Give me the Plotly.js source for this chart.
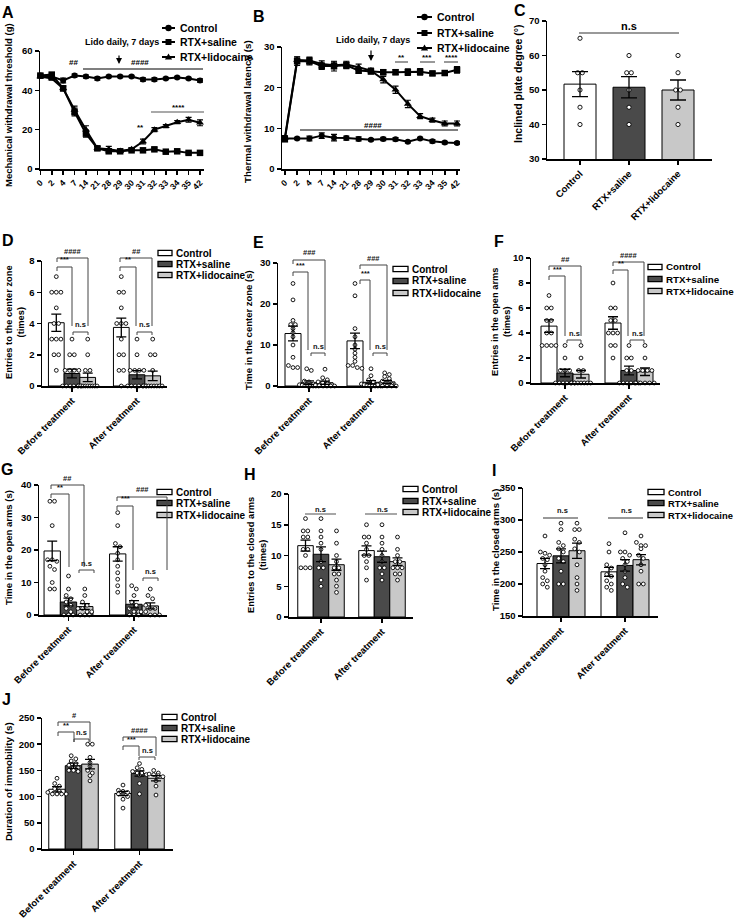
<!DOCTYPE html>
<html><head><meta charset="utf-8">
<script src="https://cdn.plot.ly/plotly-3.0.1.min.js"></script>
<style>html,body{margin:0;padding:0;background:#fff}#chart{width:736px;height:920px}</style>
</head><body><div id="chart"></div>
<script>
// ================= DATA =================
const days = ['0','2','4','7','14','21','28','29','30','31','32','33','34','35','42'];
const groupNames = ['Control','RTX+saline','RTX+lidocaine'];
const phases = ['Before treatment','After treatment'];

// A: mechanical withdrawal threshold (g)
const mechControl    = [47.5,47,45,47.5,47,46,47,47,47,45.5,45.5,46,46.5,46,45];
const mechControlSem = [0.8,0.8,1.2,0.8,0.8,0.8,0.6,0.6,0.6,0.8,0.8,0.6,0.6,0.6,0.8];
const mechSaline     = [47.5,48,41,29,18,10.5,9,9,9.5,9.5,10,8.8,9,8.2,8.2];
const mechSalineSem  = [0.8,0.8,1.2,2,1.8,1,0.8,0.6,0.6,0.6,0.8,0.6,0.6,0.6,0.6];
const mechLido       = [47,46,41,30,20,10.5,10,9.2,10,14,20,21.8,23.8,25,23.5];
const mechLidoSem    = [0.8,0.8,1.2,2,2,1,1.5,0.6,0.6,1.2,1,0.8,0.8,1.2,1.5];

// B: thermal withdrawal latency (s)
const thermControl    = [7.5,7.5,7.5,8.2,7.7,7.6,7.4,7.2,7.4,7.3,6.7,7.5,6.8,6.5,6.4];
const thermControlSem = [0.5,0.3,0.6,0.7,0.8,0.5,0.5,0.3,0.4,0.4,0.3,0.3,0.4,0.3,0.3];
const thermSaline     = [7.3,26.5,26.5,25.3,25.3,25.5,24.2,24,23.8,23.8,23.8,23.9,23.5,23.6,24.4];
const thermSalineSem  = [0.5,1,0.9,0.8,1.2,0.8,0.7,0.6,0.6,0.6,0.8,0.8,0.5,0.5,0.8];
const thermLido       = [7.6,26.8,26.7,25.8,25.5,25.7,25,24.2,22,19.5,16,13,12,11.2,11.2];
const thermLidoSem    = [0.6,0.8,0.8,0.8,0.8,0.8,0.8,0.6,0.8,0.9,0.9,0.6,0.5,0.6,0.6];

// C: inclined plate degree
const C_mean = [51.7,50.8,50.0];
const C_sem  = [3.6,3.1,2.9];
const C_pts  = [[65,55,55,50,45,40],[60,55,55,50,45,40],[60,55,50,50,45,40]];

// D: entries to the center zone (times)  [before, after]
const D_mean_ctrl=[4.05,3.75], D_sem_ctrl=[0.55,0.6];
const D_mean_sal =[0.8,0.72],  D_sem_sal =[0.28,0.27];
const D_mean_lid =[0.55,0.65], D_sem_lid =[0.27,0.3];
const D_pts_ctrl=[[7,6,6,6,5,4,4,3,3,3,2,2,1],[7,6,6,5,4,4,4,3,2,2,1,1,0]];
const D_pts_sal =[[3,2,2,1,1,1,1,0,0,0,0,0,0],[3,2,1,1,1,1,0,0,0,0,0,0]];
const D_pts_lid =[[3,2,1,1,0,0,0,0,0,0,0,0,0],[3,2,2,1,0,0,0,0,0,0,0,0]];

// E: time in the center zone (s)
const E_mean_ctrl=[12.8,11.0], E_sem_ctrl=[1.8,1.9];
const E_mean_sal =[0.8,0.9],   E_sem_sal =[0.45,0.4];
const E_mean_lid =[0.8,1.0],   E_sem_lid =[0.4,0.35];
const E_pts_ctrl=[[25,21,16,15,15,14,13,12,10,7,5,4.5,4.5],[25,22,14,12,10,9,8,7,6,5,5,4.5,4.3]];
const E_pts_sal =[[4.2,3.8,1.2,1,0.5,0.3,0.2,0.1,0,0,0,0,0],[4.2,2.5,1.5,1,0.5,0.3,0.2,0,0,0,0,0]];
const E_pts_lid =[[4.1,2,1.5,1,0.8,0.5,0.3,0.2,0.1,0,0,0,0],[3.2,2.8,2.3,1.8,1.2,0.8,0.5,0.3,0,0,0,0]];

// F: entries in the open arms (times)
const F_mean_ctrl=[4.55,4.8], F_sem_ctrl=[0.5,0.5];
const F_mean_sal =[0.8,1.0],  F_sem_sal =[0.3,0.35];
const F_mean_lid =[0.7,0.9],  F_sem_lid =[0.3,0.3];
const F_pts_ctrl=[[7,6,6,5,5,4,4,3,3,3,3],[8,6,6,5,5,4,4,4,3,3,2]];
const F_pts_sal =[[3,2,1,1,1,0,0,0,0,0,0],[3,2,2,1,1,0,0,0,0,0,0]];
const F_pts_lid =[[3,2,1,1,0,0,0,0,0,0,0],[3,2,1,1,1,1,0,0,0,0,0]];

// G: time in the open arms (s)
const G_mean_ctrl=[19.7,18.8], G_sem_ctrl=[3.0,2.2];
const G_mean_sal =[4.0,3.3],   G_sem_sal =[1.2,1.1];
const G_mean_lid =[2.6,2.8],   G_sem_lid =[0.9,0.9];
const G_pts_ctrl=[[35,35,27.5,17,17,16.5,15,14,10,8,8],[31.5,27.5,22,21,19,17,15,13,11,9,7]];
const G_pts_sal =[[12,8,6,5,4,3,2,1,0,0,0],[9,8,6,4,3,2,1,1,0,0,0]];
const G_pts_lid =[[8,6,4,3,2,2,1,1,0,0,0],[8,6,5,3,2,2,1,1,0,0,0]];

// H: entries to the closed arms (times)
const H_mean_ctrl=[11.6,10.8], H_sem_ctrl=[0.9,0.75];
const H_mean_sal =[10.2,9.8],  H_sem_sal =[1.2,0.9];
const H_mean_lid =[8.5,9.0],   H_sem_lid =[0.9,0.6];
const H_pts_ctrl=[[16,14,14,13,13,11,11,10,8,8,8],[15,13,13,12,11,10,10,9,8,6]];
const H_pts_sal =[[16,14,13,12,11,9,8,8,6,5],[15,13,12,11,10,9,8,8,7,6]];
const H_pts_lid =[[14,12,10,9,8,8,7,7,6,5,4],[13,11,10,9,9,8,8,8,7,7,6]];

// I: time in the closed arms (s)
const I_mean_ctrl=[232,219], I_sem_ctrl=[8,7];
const I_mean_sal =[244,229], I_sem_sal =[11,9];
const I_mean_lid =[252,238], I_sem_lid =[12,8];
const I_pts_ctrl=[[275,250,248,245,240,238,230,220,210,205,200,195],[263,250,230,225,215,212,205,200,195,190]];
const I_pts_sal =[[295,285,265,260,255,250,240,235,220,200,200],[280,250,250,245,240,235,230,220,210,200,195]];
const I_pts_lid =[[295,285,285,270,265,255,250,230,210,200,190],[275,265,260,260,255,245,240,230,220,200,200]];

// J: duration of immobility (s)
const J_mean_ctrl=[114,106], J_sem_ctrl=[5,4];
const J_mean_sal =[159,144], J_sem_sal =[5,5];
const J_mean_lid =[162,135], J_sem_lid =[9,5];
const J_pts_ctrl=[[135,125,120,115,110,108,105,105,105,105],[122,112,110,108,105,105,100,95,78]];
const J_pts_sal =[[178,172,168,163,160,155,155,150,150,148],[163,155,152,148,145,145,142,140,125,105]];
const J_pts_lid =[[200,200,175,165,158,150,145,140,130],[150,145,143,142,140,138,130,120,103]];

// ================= LAYOUT HELPERS =================
const W=736, H=920;
const FONT='Liberation Sans, Arial, Helvetica, sans-serif';
const px = x => x/W, py = y => 1 - y/H;
const fills = ['#ffffff','#4a4a4a','#c8c8c8'];
const traces=[], shapes=[], annotations=[];
const layout = {width:W, height:H, margin:{l:0,r:0,t:0,b:0}, paper_bgcolor:'#fff', plot_bgcolor:'rgba(0,0,0,0)',
  showlegend:false, barmode:'overlay', font:{family:FONT, color:'#000'}, shapes, annotations};
function names(n){ const s = n===1?'':String(n); return {xa:'xaxis'+s, ya:'yaxis'+s, xr:'x'+s, yr:'y'+s}; }
function tf(size){ return {family:FONT, size:size, color:'#000', weight:700}; }
const B = s => '<b>'+s+'</b>';
function baseAxis(extra){ return Object.assign({showline:true, linecolor:'#000', linewidth:1.5, ticks:'outside', ticklen:4, tickwidth:1.5,
  tickcolor:'#000', showgrid:false, zeroline:false, fixedrange:true, tickfont:tf(9.5), tickprefix:'<b>', ticksuffix:'</b>'}, extra); }
function note(x,y,text,size,opt){ annotations.push(Object.assign({x:px(x), y:py(y), xref:'paper', yref:'paper', text:text, showarrow:false,
  xanchor:'center', yanchor:'middle', font:tf(size)}, opt||{})); }
function hline(x0,x1,y,color,w){ shapes.push({type:'line', xref:'paper', yref:'paper', x0:px(x0), x1:px(x1), y0:py(y), y1:py(y), line:{color:color||'#000', width:w||1.2}}); }
const sigFont = {family:FONT, size:7.5, color:'#111', weight:700};
function bracket(b){ shapes.push({type:'path', xref:'paper', yref:'paper',
  path:`M ${px(b.x0)},${py(b.yL)} L ${px(b.x0)},${py(b.y)} L ${px(b.x1)},${py(b.y)} L ${px(b.x1)},${py(b.yR)}`, line:{color:'#444', width:1}});
  note((b.x0+b.x1)/2, b.y-0.5, B(b.t), 7.5, {yanchor:'bottom', font:sigFont}); }

function swarm(vals, cx, unitPx, bwPx, tol){
  const sorted = vals.slice().sort((a,b)=>b-a), rows=[];
  sorted.forEach(v=>{ const last=rows[rows.length-1]; if(last && Math.abs(last.v0-v)<=tol) last.items.push(v); else rows.push({v0:v, items:[v]}); });
  const xs=[], ys=[];
  rows.forEach(r=>{ const n=r.items.length; const sp = n>1 ? Math.min(4.6, bwPx*1.2/(n-1)) : 0;
    r.items.forEach((v,k)=>{ xs.push(cx + (k-(n-1)/2)*sp/unitPx); ys.push(v); }); });
  return {xs, ys};
}

// ---------- line panels ----------
function linePanel(n, cfg, series){
  const a = names(n);
  layout[a.xa] = baseAxis({type:'category', categoryorder:'array', categoryarray:days, domain:[px(cfg.x0),px(cfg.x1)], range:cfg.xRange,
    anchor:a.yr, tickangle:-45, tickfont:tf(8.5)});
  layout[a.ya] = baseAxis({domain:[py(cfg.yBot),py(cfg.yTop)], range:cfg.yRange, dtick:cfg.dtick, anchor:a.xr});
  series.forEach(s=>traces.push({type:'scatter', mode:'lines+markers', x:days, y:s.y, xaxis:a.xr, yaxis:a.yr, cliponaxis:false,
    line:{color:'#000', width:2}, marker:{symbol:s.symbol, size:s.size||6, color:'#000'},
    error_y:{type:'data', array:s.sem, visible:true, color:'#000', thickness:1.2, width:3}}));
  cfg.legend.rows.forEach((ry,i)=>{
    const L=cfg.legend; hline(L.x0, L.x1, ry, '#000', 2);
    const cx=(L.x0+L.x1)/2, sym=series[i].symbol;
    const base={xref:'paper', yref:'paper', xsizemode:'pixel', ysizemode:'pixel', xanchor:px(cx), yanchor:py(ry), fillcolor:'#000', line:{width:0}};
    if(sym==='circle') shapes.push(Object.assign({type:'circle', x0:-3.2,x1:3.2,y0:-3.2,y1:3.2}, base));
    else if(sym==='square') shapes.push(Object.assign({type:'rect', x0:-3,x1:3,y0:-3,y1:3}, base));
    else shapes.push(Object.assign({type:'path', path:'M -3.6,-2.6 L 3.6,-2.6 L 0,3.6 Z'}, base));
    note(L.tx, ry, B(groupNames[i]), 10.5, {xanchor:'left'});
  });
}

// ---------- bar panels ----------
function barPanel(n, cfg, means, sems, pts, cats){
  const a = names(n);
  const unit = cfg.c1 - cfg.c0, w = cfg.bw/unit, span = cfg.yRange[1]-cfg.yRange[0];
  layout[a.xa] = baseAxis({domain:[px(cfg.x0),px(cfg.x1)], range:[(cfg.x0-cfg.c0)/unit,(cfg.x1-cfg.c0)/unit], anchor:a.yr,
    tickvals:cfg.tickvals, ticktext:cats.map(B), tickangle:-45, tickfont:tf(cfg.tickSize||9.5), tickprefix:'', ticksuffix:''});
  layout[a.ya] = baseAxis({domain:[py(cfg.yBot),py(cfg.yTop)], range:cfg.yRange, dtick:cfg.dtick, anchor:a.xr});
  const groups = means.length;
  const xsOf = g => means[g].map((v,i)=> cfg.single ? g : i + (g-1)*w);
  for(let g=0; g<groups; g++){
    traces.push({type:'bar', x:xsOf(g), y:means[g], width:w, xaxis:a.xr, yaxis:a.yr,
      marker:{color:fills[g], line:{color:'#000', width:1}}, hoverinfo:'skip'});
  }
  for(let g=0; g<groups; g++){
    const xs = xsOf(g), dx=[], dy=[];
    pts[g].forEach((arr,i)=>{ const s=swarm(arr, xs[i], unit, cfg.bw, span*0.025); dx.push(...s.xs); dy.push(...s.ys); });
    traces.push({type:'scatter', mode:'markers', x:dx, y:dy, xaxis:a.xr, yaxis:a.yr, cliponaxis:false,
      marker:{symbol:'circle', size:cfg.dot||3.8, color:'#fff', line:{color:'#000', width:0.9}}, hoverinfo:'skip'});
  }
  for(let g=0; g<groups; g++){
    traces.push({type:'scatter', mode:'markers', x:xsOf(g), y:means[g], xaxis:a.xr, yaxis:a.yr, cliponaxis:false,
      marker:{size:2, color:'rgba(0,0,0,0)'},
      error_y:{type:'data', array:sems[g], visible:true, color:'#000', thickness:1.3, width:cfg.cap}, hoverinfo:'skip'});
  }
  if(cfg.legend){
    const L=cfg.legend;
    L.rows.forEach((ry,i)=>{
      shapes.push({type:'rect', xref:'paper', yref:'paper', x0:px(L.x0), x1:px(L.x1), y0:py(ry+2.6), y1:py(ry-2.6),
        fillcolor:fills[i], line:{color:'#000', width:1.3}});
      note(L.tx, ry, B(groupNames[i]), L.size||10, {xanchor:'left'});
    });
  }
  (cfg.brackets||[]).forEach(bracket);
}

// ================= PANELS =================
linePanel(1, {x0:40, x1:204, yTop:51, yBot:169, yRange:[0,60], dtick:20, xRange:[-0.03,14.35],
  legend:{x0:162, x1:175, tx:178, rows:[28,42,57]}},
  [{y:mechControl, sem:mechControlSem, symbol:'circle'},
   {y:mechSaline, sem:mechSalineSem, symbol:'square', size:6.5},
   {y:mechLido, sem:mechLidoSem, symbol:'triangle-up', size:7}]);
linePanel(2, {x0:282, x1:460, yTop:47, yBot:169, yRange:[0,30], dtick:10, xRange:[-0.23,14.24],
  legend:{x0:417, x1:432, tx:435, rows:[17,33,48]}},
  [{y:thermControl, sem:thermControlSem, symbol:'circle'},
   {y:thermSaline, sem:thermSalineSem, symbol:'square', size:6.5},
   {y:thermLido, sem:thermLidoSem, symbol:'triangle-up', size:7}]);

// A annotations
note(73, 63, B('##'), 8); note(140, 63, B('####'), 8); hline(83, 203, 69, '#000', 1.2);
note(178, 107, B('****'), 8); hline(151, 204, 112, '#555', 1.2);
note(140, 128, B('**'), 8);
note(122, 42, B('Lido daily, 7 days'), 9);
annotations.push({x:px(119), y:py(64), xref:'paper', yref:'paper', text:'', showarrow:true, ax:0, ay:-10, arrowhead:2, arrowsize:1, arrowwidth:1.2, arrowcolor:'#000'});
// B annotations
note(373, 40, B('Lido daily, 7 days'), 9);
annotations.push({x:px(371), y:py(61), xref:'paper', yref:'paper', text:'', showarrow:true, ax:0, ay:-12, arrowhead:2, arrowsize:1, arrowwidth:1.2, arrowcolor:'#000'});
note(401, 58, B('**'), 8); hline(395, 408, 62, '#555', 1.2);
note(427, 58, B('***'), 8); hline(420, 435, 62, '#555', 1.2);
note(451, 58, B('****'), 8); hline(444, 458, 62, '#555', 1.2);
note(373, 125, B('####'), 8); hline(300, 458, 130, '#000', 1.2);

// C
barPanel(3, {x0:547, x1:712, yTop:21, yBot:159, yRange:[30,70], dtick:10, c0:580, c1:629, bw:32, cap:8, single:true,
  tickvals:[0,1,2], tickSize:9.5, dot:4.2},
  C_mean.map(v=>[v]), C_sem.map(v=>[v]), C_pts.map(p=>[p]), groupNames);
note(629, 26, B('n.s'), 11); hline(579, 679, 33, '#777', 1.5);

const tv=[0,1];
barPanel(4, {x0:42, x1:167, yTop:261, yBot:386, yRange:[0,8], dtick:2, c0:72, c1:137, bw:15.7, cap:5, tickvals:tv,
  legend:{x0:158, x1:172, tx:174, rows:[253,264,275]},
  brackets:[{x0:57,x1:88,y:258,yL:262,yR:326,t:'####'},{x0:57,x1:72,y:267,yL:271,yR:326,t:'***'},{x0:73,x1:88,y:332,yL:335,yR:335,t:'n.s'},
            {x0:120,x1:152,y:258,yL:262,yR:326,t:'##'},{x0:120,x1:136,y:267,yL:271,yR:326,t:'**'},{x0:137,x1:152,y:332,yL:335,yR:335,t:'n.s'}]},
  [D_mean_ctrl,D_mean_sal,D_mean_lid],[D_sem_ctrl,D_sem_sal,D_sem_lid],[D_pts_ctrl,D_pts_sal,D_pts_lid], phases);

barPanel(5, {x0:278, x1:397, yTop:263, yBot:386, yRange:[0,30], dtick:10, c0:309, c1:371, bw:16, cap:5, tickvals:tv,
  legend:{x0:393, x1:408, tx:410, rows:[269,281,293]},
  brackets:[{x0:293,x1:325,y:260,yL:264,yR:350,t:'###'},{x0:293,x1:308,y:272,yL:276,yR:350,t:'***'},{x0:311,x1:325,y:353,yL:356,yR:356,t:'n.s'},
            {x0:360,x1:387,y:265,yL:269,yR:350,t:'###'},{x0:360,x1:370,y:280,yL:284,yR:350,t:'***'},{x0:373,x1:387,y:353,yL:356,yR:356,t:'n.s'}]},
  [E_mean_ctrl,E_mean_sal,E_mean_lid],[E_sem_ctrl,E_sem_sal,E_sem_lid],[E_pts_ctrl,E_pts_sal,E_pts_lid], phases);

barPanel(6, {x0:531, x1:660, yTop:258, yBot:383, yRange:[0,10], dtick:2, c0:565, c1:629, bw:16, cap:5, tickvals:tv,
  legend:{x0:648, x1:662, tx:664, rows:[267,279,291], size:9.8},
  brackets:[{x0:549,x1:581,y:266,yL:270,yR:336,t:'##'},{x0:549,x1:565,y:276,yL:280,yR:336,t:'***'},{x0:567,x1:581,y:340,yL:343,yR:343,t:'n.s'},
            {x0:613,x1:644,y:262,yL:266,yR:336,t:'####'},{x0:613,x1:628,y:270,yL:274,yR:336,t:'**'},{x0:630,x1:644,y:340,yL:343,yR:343,t:'n.s'}]},
  [F_mean_ctrl,F_mean_sal,F_mean_lid],[F_sem_ctrl,F_sem_sal,F_sem_lid],[F_pts_ctrl,F_pts_sal,F_pts_lid], phases);

barPanel(7, {x0:39, x1:167, yTop:485, yBot:615, yRange:[0,40], dtick:10, c0:68.5, c1:134, bw:16.3, cap:5, tickvals:tv,
  legend:{x0:157, x1:172, tx:174, rows:[492,503,515]},
  brackets:[{x0:51,x1:84,y:485,yL:489,yR:567,t:'##'},{x0:51,x1:69,y:494,yL:498,yR:567,t:'**'},{x0:79,x1:94,y:570,yL:573,yR:573,t:'n.s'},
            {x0:117,x1:167,y:497,yL:501,yR:570,t:'###'},{x0:117,x1:133,y:506,yL:510,yR:570,t:'***'},{x0:143,x1:158,y:578,yL:581,yR:581,t:'n.s'}]},
  [G_mean_ctrl,G_mean_sal,G_mean_lid],[G_sem_ctrl,G_sem_sal,G_sem_lid],[G_pts_ctrl,G_pts_sal,G_pts_lid], phases);

barPanel(8, {x0:289, x1:413, yTop:494, yBot:617, yRange:[0,20], dtick:5, c0:321, c1:382, bw:15.5, cap:5, tickvals:tv,
  legend:{x0:403, x1:418, tx:420, rows:[489,501,512]}},
  [H_mean_ctrl,H_mean_sal,H_mean_lid],[H_sem_ctrl,H_sem_sal,H_sem_lid],[H_pts_ctrl,H_pts_sal,H_pts_lid], phases);
note(320, 509, B('n.s'), 7.5, {font:sigFont}); hline(305, 336, 514, '#777', 1.3);
note(383, 509, B('n.s'), 7.5, {font:sigFont}); hline(365, 397, 514, '#777', 1.3);

barPanel(9, {x0:523, x1:658, yTop:488, yBot:616, yRange:[150,350], dtick:50, c0:561, c1:625, bw:16, cap:5, tickvals:tv,
  legend:{x0:648, x1:664, tx:666, rows:[492,503,515], size:9.4}},
  [I_mean_ctrl,I_mean_sal,I_mean_lid],[I_sem_ctrl,I_sem_sal,I_sem_lid],[I_pts_ctrl,I_pts_sal,I_pts_lid], phases);
note(562, 510, B('n.s'), 7.5, {font:sigFont}); hline(543, 578, 518, '#777', 1.3);
note(626, 510, B('n.s'), 7.5, {font:sigFont}); hline(608, 643, 518, '#777', 1.3);

barPanel(10, {x0:42, x1:173, yTop:718, yBot:849, yRange:[0,250], dtick:50, c0:73.5, c1:139.5, bw:16.5, cap:5, tickvals:tv,
  legend:{x0:162, x1:177, tx:179, rows:[717,728,739]},
  brackets:[{x0:58,x1:90,y:722,yL:726,yR:742,t:'#'},{x0:58,x1:74,y:732,yL:736,yR:742,t:'**'},{x0:74,x1:89,y:739,yL:742,yR:742,t:'n.s'},
            {x0:123,x1:156,y:737,yL:741,yR:756,t:'####'},{x0:123,x1:139,y:746,yL:750,yR:756,t:'***'},{x0:139,x1:155,y:757,yL:760,yR:760,t:'n.s'}]},
  [J_mean_ctrl,J_mean_sal,J_mean_lid],[J_sem_ctrl,J_sem_sal,J_sem_lid],[J_pts_ctrl,J_pts_sal,J_pts_lid], phases);

// y-axis titles
[['Mechanical withdrawal threshold (g)', 9, 105, 9.5],
 ['Thermal withdrawal latency (s)', 248, 112, 9.8],
 ['Inclined plate degree (°)', 518, 84, 10.5],
 ['Entries to the center zone<br>(times)', 15, 322, 9.3],
 ['Time in the center zone (s)', 248, 330, 9.5],
 ['Entries in the open arms<br>(times)', 501, 322, 9.3],
 ['Time in the open arms (s)', 8, 548, 9.5],
 ['Entries to the closed arms<br>(times)', 257, 555, 9.3],
 ['Time in the closed arms (s)', 495, 550, 9.5],
 ['Duration of immobility (s)', 8, 782, 9.8]].forEach(t=>note(t[1], t[2], B(t[0]), t[3], {textangle:-90}));

// panel letters
[['A',8,13],['B',259,16],['C',520,10],['D',8,240],['E',258,243],['F',499,241],['G',7,469],['H',250,475],['I',494,470],['J',6,699]]
  .forEach(l=>note(l[1], l[2], B(l[0]), 16));

Plotly.newPlot('chart', traces, layout, {staticPlot:true});
</script></body></html>
